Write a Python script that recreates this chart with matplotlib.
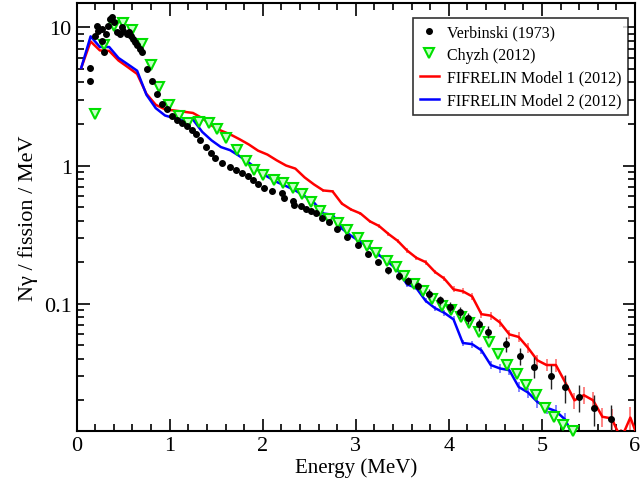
import matplotlib
matplotlib.use('Agg')
import matplotlib.pyplot as plt
from matplotlib.ticker import MultipleLocator, FixedLocator, FixedFormatter, LogLocator, NullFormatter
import numpy as np

# Verbinski (1973) measured points
verb_e = [0.14, 0.14, 0.20, 0.215, 0.233, 0.27, 0.27, 0.29, 0.32, 0.34, 0.36, 0.38, 0.40, 0.43,
          0.47, 0.49, 0.50, 0.54, 0.56, 0.58, 0.61, 0.63, 0.65, 0.68, 0.70, 0.76, 0.81, 0.86,
          0.92, 0.97, 1.025, 1.08, 1.13, 1.19, 1.24, 1.28, 1.33, 1.385, 1.44, 1.49, 1.56, 1.65,
          1.71, 1.78, 1.84, 1.90, 1.95, 2.01, 2.10, 2.21, 2.23, 2.32, 2.34, 2.41, 2.47, 2.52,
          2.57, 2.64, 2.71, 2.80, 2.91, 3.02, 3.13, 3.24, 3.35, 3.46, 3.56, 3.67, 3.79, 3.90,
          4.01, 4.12, 4.21, 4.32, 4.42, 4.61, 4.76, 4.92, 5.10, 5.25, 5.40, 5.56, 5.74]
verb_y = [5.1, 4.1, 8.7, 10.3, 9.4, 9.7, 8.0, 6.6, 8.9, 10.3, 11.5, 11.8, 10.9, 9.2,
          8.9, 10.0, 9.4, 8.9, 9.2, 8.7, 8.2, 7.8, 7.4, 7.0, 6.6, 5.0, 4.1, 3.3,
          2.79, 2.57, 2.30, 2.15, 2.03, 1.93, 1.82, 1.69, 1.52, 1.36, 1.24, 1.14, 1.05, 0.97,
          0.935, 0.885, 0.84, 0.78, 0.74, 0.69, 0.65, 0.63, 0.58, 0.55, 0.52, 0.51, 0.485, 0.47,
          0.45, 0.415, 0.39, 0.35, 0.305, 0.265, 0.23, 0.20, 0.174, 0.159, 0.146, 0.135, 0.118, 0.106,
          0.095, 0.087, 0.079, 0.071, 0.0625, 0.051, 0.042, 0.035, 0.030, 0.025, 0.021, 0.0175, 0.0146]
# relative errors (only the high-energy points show visible bars)
verb_rel = [0.0] * 64 + [0.05, 0.07, 0.07, 0.07, 0.08, 0.08, 0.08, 0.09, 0.09, 0.10,
                         0.10, 0.12, 0.14, 0.17, 0.20, 0.23, 0.22, 0.25, 0.27]

# Chyzh (2012)
chyzh_e = [0.20, 0.29, 0.40, 0.50, 0.59, 0.70, 0.80, 0.89, 0.99, 1.10, 1.20, 1.31, 1.42, 1.51,
           1.61, 1.72, 1.815, 1.905, 2.006, 2.12, 2.22, 2.32, 2.42, 2.52, 2.62, 2.71, 2.81, 2.91,
           3.02, 3.12, 3.22, 3.33, 3.43, 3.52, 3.62, 3.72, 3.82, 3.93, 4.02, 4.13, 4.22, 4.32,
           4.43, 4.53, 4.63, 4.73, 4.83, 4.935, 5.03, 5.135, 5.23, 5.33]
chyzh_y = [2.37, 7.4, 10.3, 10.7, 9.6, 7.6, 5.35, 3.7, 2.76, 2.28, 2.02, 2.08, 2.02, 1.83,
           1.57, 1.30, 1.08, 0.93, 0.85, 0.79, 0.745, 0.69, 0.625, 0.54, 0.466, 0.41, 0.385, 0.34,
           0.30, 0.26, 0.234, 0.205, 0.183, 0.159, 0.14, 0.123, 0.109, 0.097, 0.0895, 0.080, 0.072, 0.0625,
           0.053, 0.0436, 0.0363, 0.0308, 0.0257, 0.0218, 0.0177, 0.0152, 0.0132, 0.0119]

# FIFRELIN models, 0.1 MeV bins
model1_e = [0.05, 0.15, 0.25, 0.35, 0.45, 0.55, 0.65, 0.75, 0.85, 0.95, 1.05, 1.15, 1.25, 1.35,
            1.45, 1.55, 1.65, 1.75, 1.85, 1.95, 2.05, 2.15, 2.25, 2.35, 2.45, 2.55, 2.65, 2.75,
            2.85, 2.95, 3.05, 3.15, 3.25, 3.35, 3.45, 3.55, 3.65, 3.75, 3.85, 3.95, 4.05, 4.15,
            4.25, 4.35, 4.45, 4.55, 4.65, 4.75, 4.85, 4.95, 5.05, 5.15, 5.25, 5.35, 5.45, 5.55,
            5.65, 5.75, 5.85, 5.95, 6.05]
model1_y = [5.1, 7.9, 6.8, 6.75, 5.75, 5.15, 4.6, 3.3, 2.75, 2.55, 2.50, 2.45, 2.40, 2.2,
            1.95, 1.79, 1.68, 1.55, 1.42, 1.28, 1.2, 1.09, 1.0, 0.95, 0.82, 0.73, 0.66, 0.65,
            0.53, 0.48, 0.45, 0.395, 0.365, 0.32, 0.285, 0.243, 0.215, 0.20, 0.17, 0.152, 0.127, 0.123,
            0.113, 0.084, 0.082, 0.073, 0.060, 0.0575, 0.048, 0.039, 0.036, 0.036, 0.027, 0.020, 0.0218, 0.020,
            0.0152, 0.0148, 0.0105, 0.015, 0.010]
model1_rel = [0.0] * 20 + [0.01, 0.01, 0.01, 0.015, 0.015, 0.015, 0.02, 0.02, 0.02, 0.02,
                           0.025, 0.025, 0.03, 0.03, 0.03, 0.035, 0.035, 0.04, 0.04, 0.045,
                           0.05, 0.05, 0.055, 0.06, 0.065, 0.07, 0.075, 0.08, 0.085, 0.09,
                           0.10, 0.11, 0.12, 0.13, 0.14, 0.15, 0.16, 0.17, 0.19, 0.20, 0.22]

model2_e = [0.05, 0.15, 0.25, 0.35, 0.45, 0.55, 0.65, 0.75, 0.85, 0.95, 1.05, 1.15, 1.25, 1.35,
            1.45, 1.55, 1.65, 1.75, 1.85, 1.95, 2.05, 2.15, 2.25, 2.35, 2.45, 2.55, 2.65, 2.75,
            2.85, 2.95, 3.05, 3.15, 3.25, 3.35, 3.45, 3.55, 3.65, 3.75, 3.85, 3.95, 4.05, 4.15,
            4.25, 4.35, 4.45, 4.55, 4.65, 4.75, 4.85, 4.95, 5.05, 5.15, 5.25, 5.35]
model2_y = [5.1, 8.6, 7.2, 7.2, 6.0, 5.4, 4.85, 3.25, 2.6, 2.3, 2.2, 2.12, 2.15, 1.75,
            1.52, 1.36, 1.29, 1.17, 1.05, 0.93, 0.83, 0.76, 0.71, 0.66, 0.60, 0.54, 0.45, 0.44,
            0.35, 0.31, 0.28, 0.255, 0.225, 0.20, 0.175, 0.138, 0.13, 0.105, 0.093, 0.086, 0.077, 0.052,
            0.051, 0.046, 0.036, 0.034, 0.033, 0.025, 0.0228, 0.0195, 0.0177, 0.0167, 0.0145, 0.0105]
model2_rel = [0.0] * 20 + [0.01, 0.01, 0.01, 0.015, 0.015, 0.015, 0.02, 0.02, 0.02, 0.02,
                           0.025, 0.025, 0.03, 0.03, 0.03, 0.035, 0.035, 0.04, 0.04, 0.045,
                           0.05, 0.05, 0.055, 0.06, 0.065, 0.07, 0.075, 0.08, 0.085, 0.09,
                           0.10, 0.11, 0.12, 0.13]

plt.rcParams['font.family'] = ['Liberation Serif', 'DejaVu Serif']

fig = plt.figure(figsize=(6.44, 4.89), dpi=100)
ax = fig.add_axes([0.119, 0.1166, 0.867, 0.8753])

m1y = np.array(model1_y)
m2y = np.array(model2_y)
vy = np.array(verb_y)

# error bars first, then the lines and markers on top
ax.errorbar(model1_e, m1y, yerr=m1y * np.array(model1_rel), fmt='none',
            ecolor='#ff7070', elinewidth=1.2, capsize=0, zorder=2)
ax.errorbar(model2_e, m2y, yerr=m2y * np.array(model2_rel), fmt='none',
            ecolor='#7070ff', elinewidth=1.2, capsize=0, zorder=2)
l_m1, = ax.plot(model1_e, m1y, color='#ff0000', lw=1.8, zorder=3)
l_m2, = ax.plot(model2_e, m2y, color='#0000ff', lw=1.8, zorder=3)

l_ch, = ax.plot(chyzh_e, chyzh_y, linestyle='none', marker='v', markersize=7,
                markerfacecolor='#c8ffc8', markeredgecolor='#00e000', markeredgewidth=1.5,
                zorder=4, clip_on=False)

ax.errorbar(verb_e, vy, yerr=vy * np.array(verb_rel), fmt='none',
            ecolor='#222222', elinewidth=1.0, capsize=0, zorder=5)
l_vb, = ax.plot(verb_e, vy, linestyle='none', marker='o', markersize=4,
                color='black', zorder=5)

ax.set_yscale('log')
ax.set_xlim(0, 6)
ax.set_ylim(0.012, 15)

ax.xaxis.set_major_locator(MultipleLocator(1))
ax.xaxis.set_minor_locator(MultipleLocator(0.2))
ax.yaxis.set_major_locator(FixedLocator([0.1, 1, 10]))
ax.yaxis.set_major_formatter(FixedFormatter(['0.1', '1', '10']))
ax.yaxis.set_minor_locator(LogLocator(base=10, subs=np.arange(2, 10)))
ax.yaxis.set_minor_formatter(NullFormatter())

ax.tick_params(which='both', direction='in', top=True, right=True, width=1.2)
ax.tick_params(which='major', length=9, labelsize=16)
ax.tick_params(which='minor', length=5)
for s in ax.spines.values():
    s.set_linewidth(1.5)

ax.set_xlabel('Energy (MeV)', fontsize=15, labelpad=2)
ax.set_ylabel('Nγ / fission / MeV', fontsize=16, labelpad=4)

leg = ax.legend([l_vb, l_ch, l_m1, l_m2],
                ['Verbinski (1973)', 'Chyzh (2012)', 'FIFRELIN Model 1 (2012)', 'FIFRELIN Model 2 (2012)'],
                loc='upper right', bbox_to_anchor=(0.987, 0.965), fontsize=11.5,
                frameon=True, fancybox=False, edgecolor='black', handlelength=1.2,
                handletextpad=0.5, borderpad=0.4, labelspacing=0.42, borderaxespad=0)
leg.get_frame().set_linewidth(1.2)

fig.savefig('out.png', dpi=100)
